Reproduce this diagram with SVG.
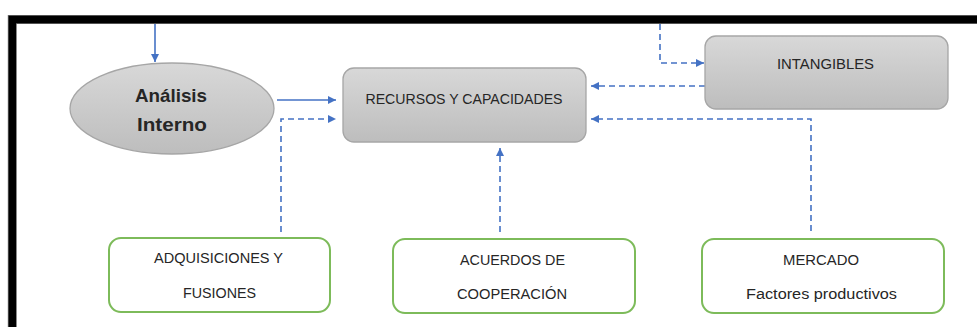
<svg xmlns="http://www.w3.org/2000/svg" width="977" height="327" viewBox="0 0 977 327">
<defs>
<linearGradient id="gray" x1="0" y1="0" x2="0" y2="1">
<stop offset="0" stop-color="#d8d8d8"/>
<stop offset="1" stop-color="#bdbdbd"/>
</linearGradient>
<marker id="ah" markerUnits="userSpaceOnUse" markerWidth="9" markerHeight="8" refX="8" refY="4" orient="auto">
<path d="M0,0 L8,4 L0,8 z" fill="#4472c4"/>
</marker>
<style>
.frame{fill:none;stroke-linecap:butt}
.gbox{fill:url(#gray);stroke:#a6a6a6;stroke-width:1.3}
.grn{fill:#ffffff;stroke:#7dbb5a;stroke-width:2}
.t{font-family:"Liberation Sans",Arial,sans-serif;font-size:14px;fill:#262626;text-anchor:middle}
.tb{font-family:"Liberation Sans",Arial,sans-serif;font-size:18.5px;font-weight:bold;fill:#262626;text-anchor:middle}
.sol{fill:none;stroke:#4472c4;stroke-width:1.6;marker-end:url(#ah)}
.dash{fill:none;stroke:#4472c4;stroke-width:1.6;stroke-dasharray:6 4;marker-end:url(#ah)}
</style>
</defs>
<rect width="977" height="327" fill="#ffffff"/>
<g id="frame">
<path class="frame" d="M12.3,327 L12.3,19.5 L977,19.5" stroke="#6e6e6e" stroke-width="9"/>
<path class="frame" d="M12.3,327 L12.3,19.5 L977,19.5" stroke="#000000" stroke-width="7.4"/>
</g>
<g id="connectors">
<path class="sol" d="M155,24 L155,62"/>
<path class="sol" d="M277,100 L336,100"/>
<path class="dash" d="M281,232 L281,119 L336,119"/>
<path class="dash" d="M660,24 L660,63 L704,63"/>
<path class="dash" d="M705,86 L591,86"/>
<path class="dash" d="M811,231 L811,119 L591,119"/>
<path class="dash" d="M500,232 L500,148"/>
</g>
<g id="analisis">
<ellipse class="gbox" cx="172" cy="108.5" rx="102" ry="45.5"/>
<text class="tb" x="171" y="101.5" textLength="72" lengthAdjust="spacingAndGlyphs">Análisis</text>
<text class="tb" x="172" y="131" textLength="70" lengthAdjust="spacingAndGlyphs">Interno</text>
</g>
<g id="recursos">
<rect class="gbox" x="343" y="68" width="243" height="74" rx="11"/>
<text class="t" x="464" y="104.3" textLength="197" lengthAdjust="spacingAndGlyphs">RECURSOS Y CAPACIDADES</text>
</g>
<g id="intangibles">
<rect class="gbox" x="705" y="36" width="243" height="73" rx="11"/>
<text class="t" x="825.5" y="69" textLength="97" lengthAdjust="spacingAndGlyphs">INTANGIBLES</text>
</g>
<g id="adquisiciones">
<rect class="grn" x="109" y="238" width="221" height="74" rx="12"/>
<text class="t" x="218.5" y="263.3" textLength="129" lengthAdjust="spacingAndGlyphs">ADQUISICIONES Y</text>
<text class="t" x="219.5" y="297.5" textLength="73" lengthAdjust="spacingAndGlyphs">FUSIONES</text>
</g>
<g id="acuerdos">
<rect class="grn" x="393" y="239" width="242" height="74" rx="12"/>
<text class="t" x="512.5" y="265" textLength="105" lengthAdjust="spacingAndGlyphs">ACUERDOS DE</text>
<text class="t" x="512" y="299" textLength="110" lengthAdjust="spacingAndGlyphs">COOPERACIÓN</text>
</g>
<g id="mercado">
<rect class="grn" x="702" y="239" width="242" height="74" rx="12"/>
<text class="t" x="821" y="265" textLength="76" lengthAdjust="spacingAndGlyphs">MERCADO</text>
<text class="t" x="821.5" y="299" textLength="151" lengthAdjust="spacingAndGlyphs">Factores productivos</text>
</g>
</svg>
